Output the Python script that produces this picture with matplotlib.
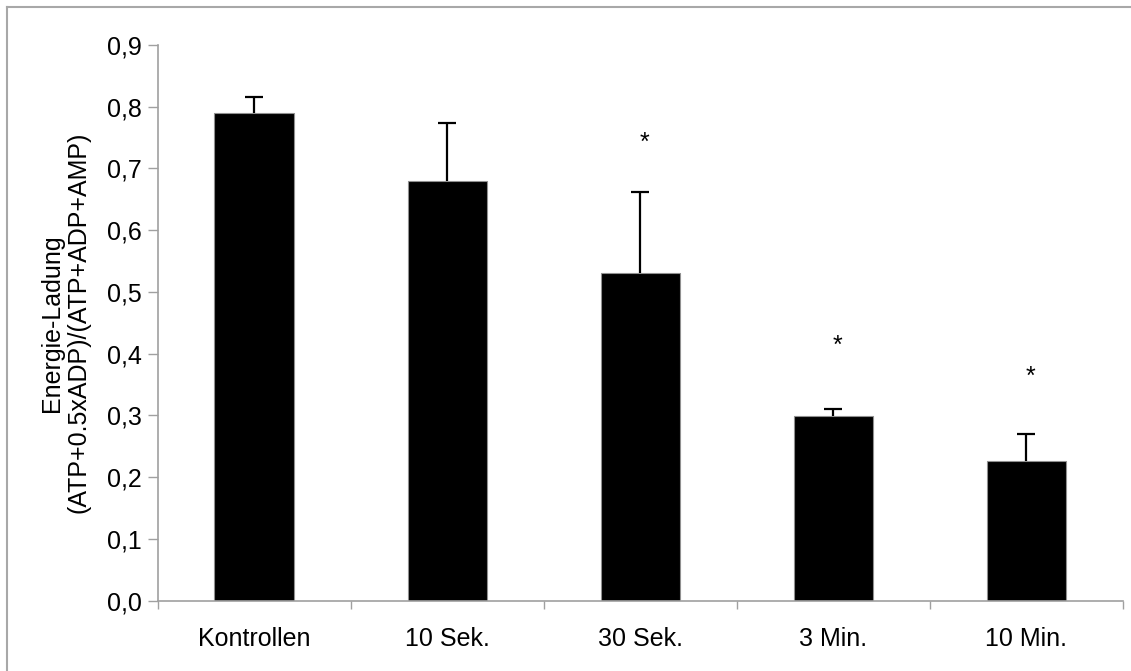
import matplotlib
matplotlib.use("Agg")
import matplotlib.pyplot as plt
from matplotlib.lines import Line2D
from matplotlib.ticker import FuncFormatter, FixedLocator
import numpy as np

categories = ["Kontrollen", "10 Sek.", "30 Sek.", "3 Min.", "10 Min."]
values = [0.790, 0.680, 0.531, 0.299, 0.226]
errors = [0.026, 0.094, 0.131, 0.012, 0.043]
star_y = [None, None, 0.741, 0.413, 0.363]
yticks = [0.0, 0.1, 0.2, 0.3, 0.4, 0.5, 0.6, 0.7, 0.8, 0.9]
ylabel = "Energie-Ladung\n(ATP+0.5xADP)/(ATP+ADP+AMP)"

plt.rcParams['font.family'] = ['Liberation Sans', 'DejaVu Sans']

W, H = 1131, 671
fig = plt.figure(figsize=(W / 100, H / 100), dpi=100)
ax = fig.add_axes([157.5 / W, 1 - 600.5 / H, (1123 - 157.5) / W, (600.5 - 45) / H])

x = np.arange(len(categories))
ax.bar(x, values, width=0.41, color="black", edgecolor="#909090", linewidth=0.8, zorder=2)
eb = ax.errorbar(x, values, yerr=[np.zeros(len(errors)), errors], fmt="none",
                 ecolor="black", elinewidth=1.6, capsize=6.5, capthick=1.6, zorder=3)
caplines = eb[1]
if len(caplines) == 2:
    caplines[0].set_visible(False)

for xi, sy in zip(x, star_y):
    if sy is not None:
        ax.text(xi + 0.02, sy, "*", ha="center", va="center", fontsize=18, color="black")

ax.set_xlim(-0.5, len(categories) - 0.5)
ax.set_ylim(0, 0.9)
ax.set_yticks(yticks)
ax.yaxis.set_major_formatter(FuncFormatter(lambda v, p: f"{v:.1f}".replace(".", ",")))

ax.xaxis.set_major_locator(FixedLocator(np.arange(-0.5, len(categories), 1.0)))
ax.xaxis.set_major_formatter(FuncFormatter(lambda v, p: ""))
ax.xaxis.set_minor_locator(FixedLocator(x))
ax.set_xticklabels(categories, minor=True)
ax.tick_params(axis="x", which="minor", length=0, pad=19, labelsize=18)
ax.tick_params(axis="x", which="major", length=6, width=1, color="#a0a0a0", direction="out")
ax.tick_params(axis="y", length=7, width=1, color="#a0a0a0", direction="out", labelsize=18, pad=4)

for s in ["top", "right"]:
    ax.spines[s].set_visible(False)
for s in ["left", "bottom"]:
    ax.spines[s].set_color("#a0a0a0")
    ax.spines[s].set_linewidth(1.2)

ax.set_ylabel(ylabel, fontsize=18, linespacing=1.15, labelpad=12, multialignment="center")

# outer frame (top and left edges)
fc = "#a8a8a8"
fig.add_artist(Line2D([7 / W, 1131 / W], [1 - 6.5 / H, 1 - 6.5 / H], color=fc, lw=1.5, transform=fig.transFigure))
fig.add_artist(Line2D([7 / W, 7 / W], [1 - 6.5 / H, 0], color=fc, lw=1.5, transform=fig.transFigure))

fig.savefig("out.png", dpi=100, facecolor="white")
